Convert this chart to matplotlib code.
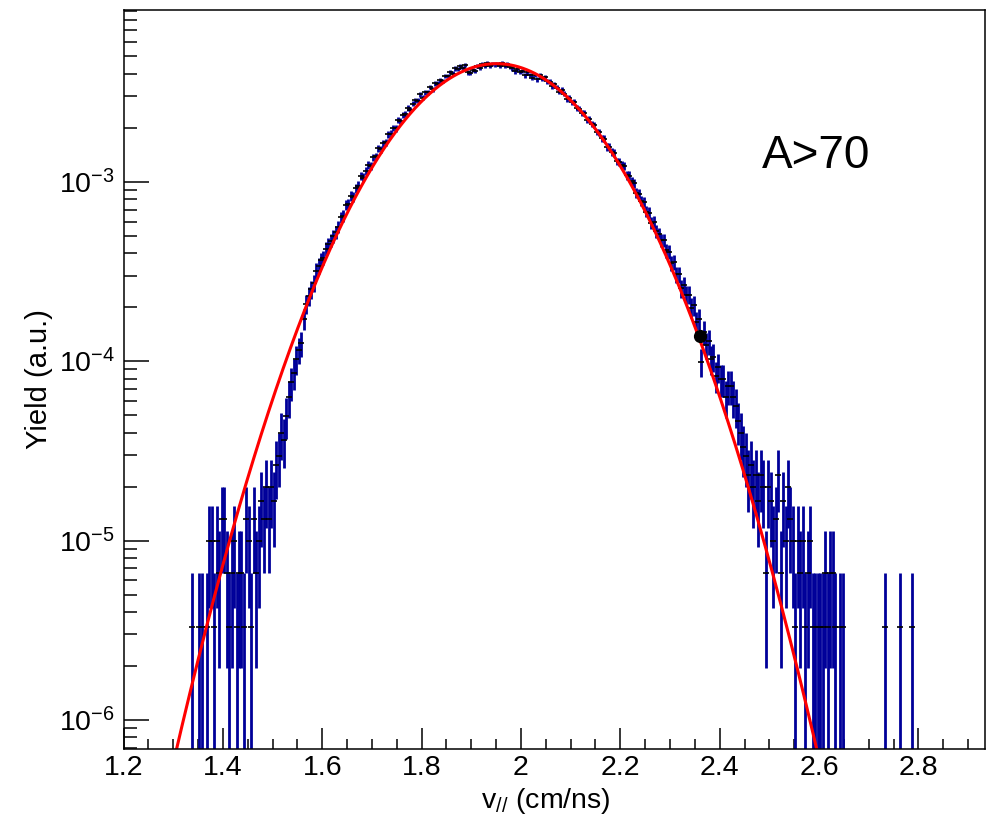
import numpy as np
import matplotlib
matplotlib.use('Agg')
from matplotlib import pyplot as plt
from matplotlib.ticker import MultipleLocator, LogLocator, NullFormatter, FuncFormatter

plt.rcParams['font.family'] = ['Liberation Sans', 'DejaVu Sans']
plt.rcParams['mathtext.fontset'] = 'custom'
plt.rcParams['mathtext.rm'] = 'Liberation Sans'
plt.rcParams['mathtext.it'] = 'Liberation Sans:italic'
plt.rcParams['mathtext.bf'] = 'Liberation Sans:bold'

# histogram binning (v_par in cm/ns) and normalisation of one count
V_LO = 1.330
V_BIN = 0.005
YIELD_PER_COUNT = 3.31e-6

# counts per bin
counts_left_tail = [
    0, 1, 0, 0, 1, 1, 0, 1, 3, 3,
    1, 3, 2, 4, 4, 2, 1, 2, 3, 1,
    2, 2, 1, 4, 3, 1, 4, 2, 3, 5,
    4, 6, 4, 6, 5, 8, 9, 12, 11, 15,
    19, 23, 26, 31, 35, 38, 52, 63, 70, 76,
    82, 96, 103, 110, 114, 128, 135, 142, 150, 158,
    170,
]
counts_left_flank = [
    192, 195, 224, 227, 251, 249, 278, 287, 326, 318,
    347, 374, 372, 413, 419, 463, 458, 496, 500, 556,
    560, 603, 599, 664, 658, 714, 720, 779, 761, 822,
    860, 855, 928, 887, 952, 952, 1019, 987, 1066, 1062,
    1110, 1103, 1174, 1175, 1235, 1210, 1295, 1279, 1326, 1306,
    1351, 1228, 1218, 1268, 1256, 1332, 1303, 1365, 1332, 1378,
    1329, 1373, 1361,
]
counts_right_flank = [
    1375, 1333, 1385, 1340, 1361, 1314, 1292, 1245, 1285, 1235,
    1247, 1184, 1230, 1190, 1149, 1189, 1123, 1185, 1129, 1152,
    1095, 1093, 1026, 1053, 1007, 961, 982, 936, 873, 890,
    837, 843, 776, 772, 731, 733, 664, 672, 633, 626,
    571, 569, 528, 525, 472, 473, 442, 437, 392, 388,
    375, 369, 329, 327, 303, 297, 261, 259, 236, 233,
    206, 203, 179, 180, 160, 154, 143, 143, 125, 123,
    106, 108, 92, 92, 77, 80, 71, 71, 60, 62,
    50, 52, 30, 44, 37, 39, 31, 32, 25, 28,
    24, 24, 19, 22,
]
counts_right_tail = [
    22, 19, 17, 14, 12, 10, 9, 7, 8, 6,
    7, 5, 7, 6, 2, 6, 5, 3, 4, 7,
    2, 5, 3, 6, 4, 3, 1, 3, 2, 3,
    1, 2, 3, 1, 1, 1, 1, 1, 2, 1,
    2, 2, 1, 0, 1, 1, 0, 0, 0, 0,
    0, 0, 0, 0, 0, 0, 0, 0, 0, 0,
    0, 0, 1, 0, 0, 0, 0, 0, 1, 0,
    0, 0, 0, 1, 0, 0,
]

# gaussian fit parameters
fit_amp = 4.55e-3
fit_mean = 1.951
fit_sigma = 0.1536
fit_lo, fit_hi = 1.30, 2.61

# highlighted point
dot_v = 2.360
dot_yield = 1.38e-4

counts = np.array(counts_left_tail + counts_left_flank
                  + counts_right_flank + counts_right_tail, dtype=float)
centers = V_LO + V_BIN * (np.arange(len(counts)) + 0.5)
keep = counts > 0
x = centers[keep]
y = counts[keep] * YIELD_PER_COUNT
err = np.sqrt(counts[keep]) * YIELD_PER_COUNT
err_lo = np.minimum(err, y - 1e-9)

fig = plt.figure(figsize=(9.88, 8.19), dpi=100)
ax = fig.add_axes([123.5 / 988, 1 - 749 / 819, (985 - 123.5) / 988, (749 - 10) / 819])

ax.errorbar(x, y, yerr=[err_lo, err], fmt='none', ecolor='#000099', elinewidth=2.0)
ax.plot(x, y, ls='none', marker='_', ms=4, mew=1.2, color='black')

xv = np.linspace(fit_lo, fit_hi, 800)
ax.plot(xv, fit_amp * np.exp(-0.5 * ((xv - fit_mean) / fit_sigma) ** 2),
        color='red', lw=2.2)
ax.plot(dot_v, dot_yield, 'o', color='black', ms=8.5)

ax.set_yscale('log')
ax.set_xlim(1.2, 2.934)
ax.set_ylim(6.89e-7, 9.06e-3)

ax.xaxis.set_major_locator(MultipleLocator(0.2))
ax.xaxis.set_minor_locator(MultipleLocator(0.05))
ax.xaxis.set_major_formatter(FuncFormatter(lambda v, p: f'{v:g}'))
ax.yaxis.set_major_locator(LogLocator(base=10))
ax.yaxis.set_minor_locator(LogLocator(base=10, subs=np.arange(2, 10)))
ax.yaxis.set_minor_formatter(NullFormatter())

ax.tick_params(axis='both', which='both', direction='in', top=False, right=False,
               width=1.1, labelsize=20.5)
ax.tick_params(axis='x', which='major', length=15, pad=4)
ax.tick_params(axis='x', which='minor', length=7.2)
ax.tick_params(axis='y', which='major', length=18, pad=6)
ax.tick_params(axis='y', which='minor', length=9.4)
for sp in ax.spines.values():
    sp.set_linewidth(1.1)

ax.set_xlabel(r'v$_{//}$ (cm/ns)', fontsize=20.5)
ax.set_ylabel('Yield (a.u.)', fontsize=21)
ax.xaxis.set_label_coords(0.49, -0.05)
ax.yaxis.set_label_coords(-0.082, 0.5)

ax.text(0.741, 0.786, 'A>70', transform=ax.transAxes, fontsize=33,
        ha='left', va='baseline')

fig.savefig('out.png', dpi=100)
